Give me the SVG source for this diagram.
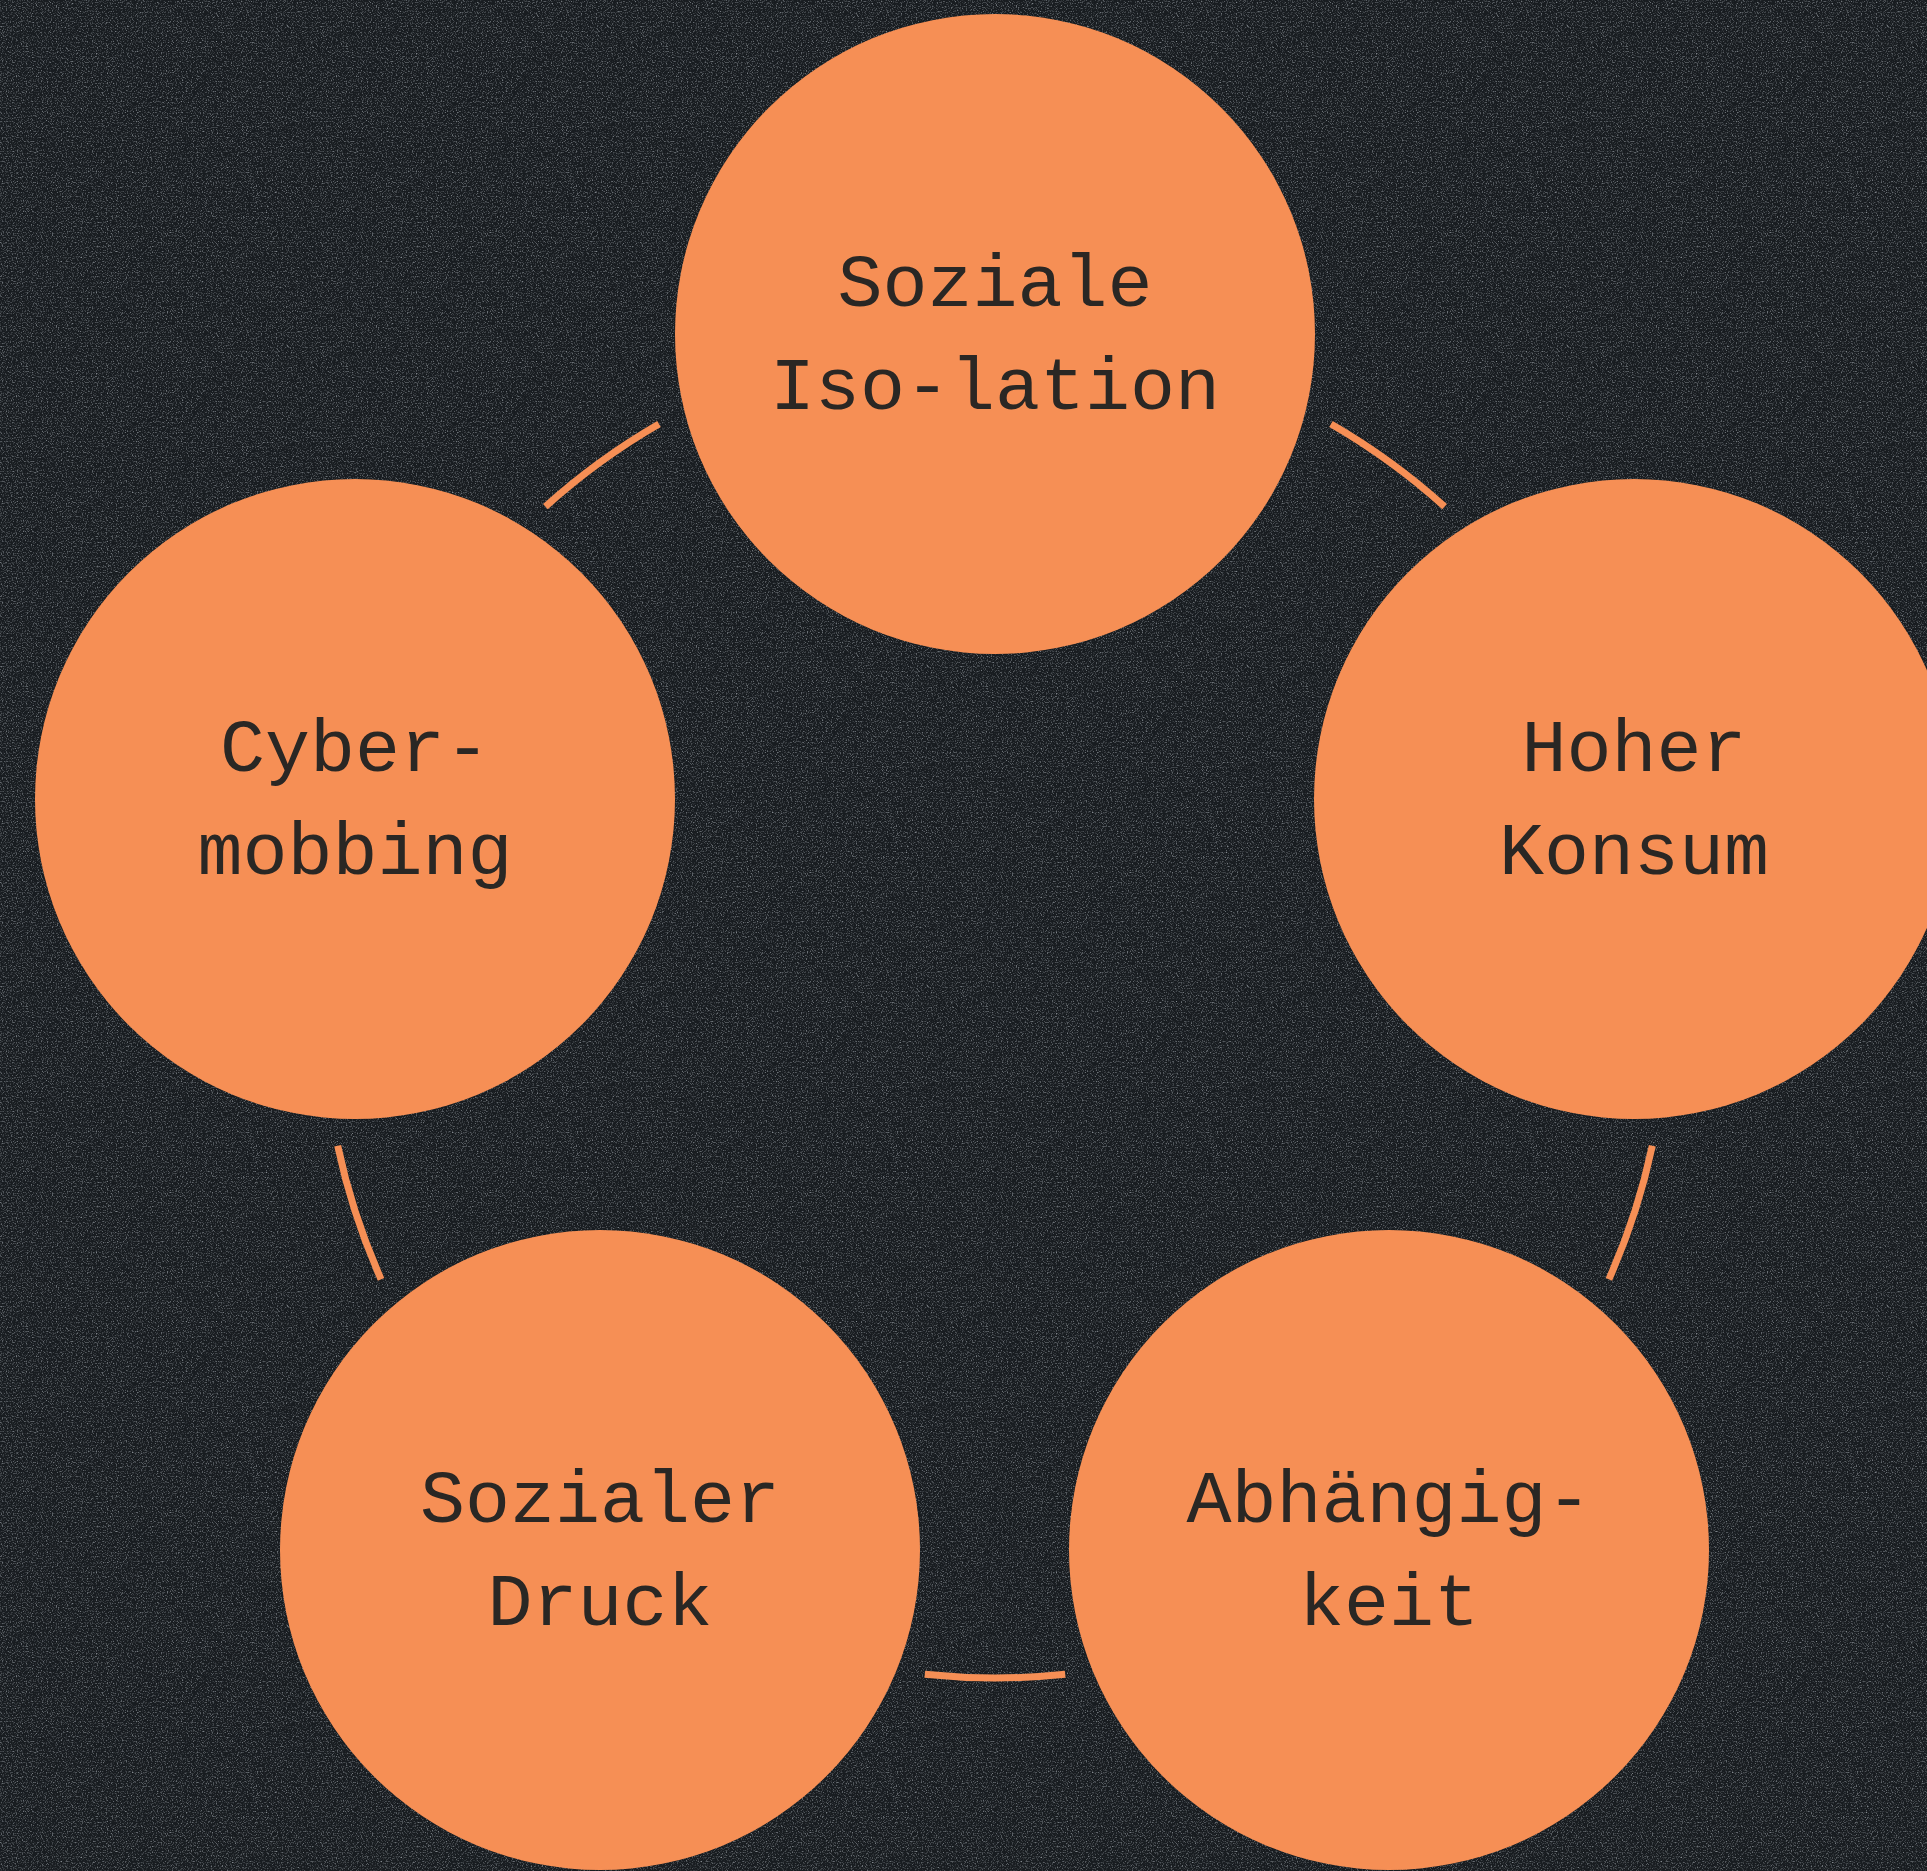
<svg xmlns="http://www.w3.org/2000/svg" width="1927" height="1871" viewBox="0 0 1927 1871">
  <defs>
    <filter id="grain" x="0" y="0" width="100%" height="100%">
      <feTurbulence type="fractalNoise" baseFrequency="0.8" numOctaves="2" seed="7" result="n"/>
      <feColorMatrix in="n" type="matrix" values="0 0 0 0 0.6  0 0 0 0 0.65  0 0 0 0 0.7  2.6 0 0 0 -1.3"/>
    </filter>
    <style>
      .node { fill: #F68F55; }
      .label { font-family: "Liberation Mono", "DejaVu Sans Mono", monospace; font-size: 75px; fill: #2A2724; text-anchor: middle; }
      .link { fill: none; stroke: #F68F55; stroke-width: 7; stroke-linecap: butt; }
    </style>
  </defs>
  <rect x="0" y="0" width="1927" height="1871" fill="#181C20"/>
  <rect x="0" y="0" width="1927" height="1871" filter="url(#grain)" opacity="0.6"/>

  <g id="connectors">
    <path class="link" d="M1331 424 A672 672 0 0 1 1444.6 506.6"/>
    <path class="link" d="M1652.3 1145.7 A672 672 0 0 1 1608.9 1279.3"/>
    <path class="link" d="M1065.2 1674.3 A672 672 0 0 1 924.8 1674.3"/>
    <path class="link" d="M381.1 1279.3 A672 672 0 0 1 337.7 1145.7"/>
    <path class="link" d="M545.4 506.6 A672 672 0 0 1 659 424"/>
  </g>

  <g id="node-soziale-isolation">
    <circle class="node" cx="995" cy="334" r="320"/>
    <text class="label" x="995" y="306">Soziale</text>
    <text class="label" x="995" y="409">Iso-lation</text>
  </g>
  <g id="node-hoher-konsum">
    <circle class="node" cx="1634" cy="799" r="320"/>
    <text class="label" x="1634" y="771">Hoher</text>
    <text class="label" x="1634" y="874">Konsum</text>
  </g>
  <g id="node-abhaengigkeit">
    <circle class="node" cx="1389" cy="1550" r="320"/>
    <text class="label" x="1389" y="1522">Abhängig-</text>
    <text class="label" x="1389" y="1625">keit</text>
  </g>
  <g id="node-sozialer-druck">
    <circle class="node" cx="600" cy="1550" r="320"/>
    <text class="label" x="600" y="1522">Sozialer</text>
    <text class="label" x="600" y="1625">Druck</text>
  </g>
  <g id="node-cybermobbing">
    <circle class="node" cx="355" cy="799" r="320"/>
    <text class="label" x="355" y="771">Cyber-</text>
    <text class="label" x="355" y="874">mobbing</text>
  </g>
</svg>
